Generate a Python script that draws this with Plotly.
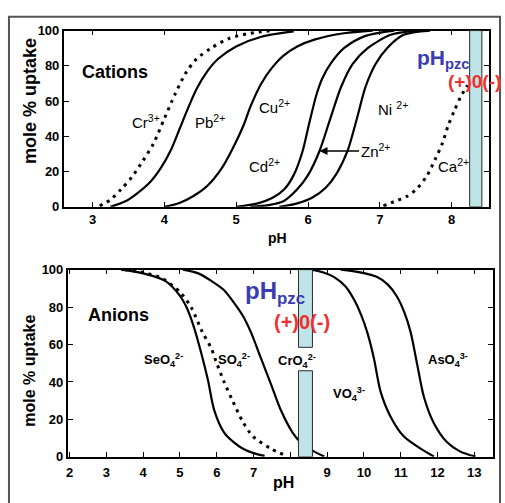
import plotly.graph_objects as go

# ---------------- cation uptake edges (pH, mole % uptake) ----------------
cr_ph = [3.1, 3.25, 3.4, 3.55, 3.7, 3.85, 4.0, 4.15, 4.3, 4.45, 4.65, 4.9, 5.2, 5.5]
cr_up = [0.5, 4, 10, 17, 26, 36, 50, 64, 76, 84, 90, 95.5, 98.5, 100]

pb_ph = [3.25, 3.45, 3.6, 3.8, 3.95, 4.1, 4.22, 4.32, 4.45, 4.6, 4.75, 5.0, 5.35, 5.8]
pb_up = [0, 3, 7, 14, 22, 33, 45, 55, 67, 77, 84, 91, 96.5, 99.5]

cu_ph = [4.0, 4.2, 4.4, 4.6, 4.8, 4.95, 5.1, 5.2, 5.35, 5.5, 5.65, 5.85, 6.1, 6.5, 6.9]
cu_up = [0, 2, 6, 12, 22, 33, 46, 57, 70, 79, 85.5, 91, 95, 98.5, 100]

cd_ph = [5.0, 5.3, 5.5, 5.67, 5.8, 5.92, 6.02, 6.12, 6.2, 6.32, 6.5, 6.8, 7.2]
cd_up = [0, 2, 5, 10, 18, 31, 48, 64, 73, 81.5, 90, 97, 100]

zn_ph = [5.2, 5.45, 5.65, 5.85, 6.0, 6.16, 6.31, 6.46, 6.62, 6.83, 7.15, 7.5]
zn_up = [0, 1, 3, 10, 18, 31.7, 50, 68, 81, 90, 97.6, 100]

ni_ph = [5.6, 5.85, 6.05, 6.25, 6.4, 6.55, 6.68, 6.8, 6.94, 7.1, 7.33, 7.7]
ni_up = [0, 2, 5, 11, 19, 31.7, 50, 68, 81, 90, 97.6, 100]

ca_ph = [7.05, 7.2, 7.38, 7.52, 7.66, 7.77, 7.87, 7.95, 8.03, 8.12, 8.22]
ca_up = [0.5, 3, 6, 10.5, 18, 27, 36, 46, 54, 62, 69]

# ---------------- anion uptake edges (pH, mole % uptake) ----------------
seo4_ph = [3.4, 4.0, 4.6, 5.0, 5.2, 5.4, 5.57, 5.76, 5.93, 6.2, 6.45, 6.7, 7.0, 7.3]
seo4_up = [100, 98, 94, 86, 79, 68, 56, 41, 25, 13, 8, 4.5, 2, 0.5]

so4_ph = [3.5, 4.0, 4.5, 5.0, 5.3, 5.6, 5.85, 5.98, 6.2, 6.43, 6.7, 6.98, 7.47, 7.85]
so4_up = [100, 98.5, 95.5, 88, 80, 67, 58, 51, 40, 30, 19, 11, 4.4, 0.9]

cro4_ph = [5.08, 5.5, 5.85, 6.2, 6.48, 6.72, 6.93, 7.2, 7.47, 7.74, 8.06, 8.28, 8.65, 8.92]
cro4_up = [100, 98, 94, 89, 82, 75, 66.5, 52.7, 39, 25, 13, 7.8, 2.8, 0.2]

vo4_ph = [8.56, 8.9, 9.19, 9.5, 9.73, 9.92, 10.09, 10.27, 10.45, 10.72, 11.08, 11.54, 11.9]
vo4_up = [100, 98.5, 96, 91, 84, 76, 66.5, 52.7, 35, 21.6, 11, 4.4, 0.2]

aso4_ph = [9.37, 9.9, 10.36, 10.65, 10.9, 11.1, 11.27, 11.45, 11.63, 11.9, 12.26, 12.62, 13.03]
aso4_up = [100, 98.5, 96, 92, 85.5, 77, 66.5, 49, 32, 18, 7.8, 2.8, 0.2]

# point-of-zero-charge bands (pH limits) and gap in the lower band (uptake %)
pzc_top = [8.25, 8.42]
pzc_bottom = [8.22, 8.6]
pzc_bottom_gap = [46, 58.5]

cation_ticks = [3, 4, 5, 6, 7, 8]
anion_ticks = [2, 3, 4, 5, 6, 7, 8, 9, 10, 11, 12, 13]
anion_ticktext = ["2", "3", "4", "5", "6", "7", "", "9", "10", "11", "12", "13"]
uptake_ticks = [0, 20, 40, 60, 80, 100]

FONT = "Liberation Sans, Arial, sans-serif"
W, H = 505, 503

fig = go.Figure()


def curve(xs, ys, dotted, panel):
    xa, ya = ("x", "y") if panel == 1 else ("x2", "y2")
    fig.add_trace(go.Scatter(
        x=xs, y=ys, mode="lines", xaxis=xa, yaxis=ya,
        line=dict(color="black", width=3 if dotted else 2.2,
                  dash="3px,5px" if dotted else "solid",
                  shape="spline", smoothing=0.8),
        hoverinfo="skip", showlegend=False))


curve(cr_ph, cr_up, True, 1)
curve(pb_ph, pb_up, False, 1)
curve(cu_ph, cu_up, False, 1)
curve(cd_ph, cd_up, False, 1)
curve(zn_ph, zn_up, False, 1)
curve(ni_ph, ni_up, False, 1)
curve(ca_ph, ca_up, True, 1)

curve(seo4_ph, seo4_up, False, 2)
curve(so4_ph, so4_up, True, 2)
curve(cro4_ph, cro4_up, False, 2)
curve(vo4_ph, vo4_up, False, 2)
curve(aso4_ph, aso4_up, False, 2)

axis_common = dict(
    showline=True, linecolor="black", linewidth=1.6, mirror="ticks",
    ticks="inside", ticklen=5, tickwidth=1.3, tickcolor="black",
    showgrid=False, zeroline=False,
    tickfont=dict(family=FONT, size=13, color="black", weight="bold"),
)

fig.update_layout(
    width=W, height=H,
    margin=dict(l=0, r=0, t=0, b=0),
    paper_bgcolor="white", plot_bgcolor="white",
    xaxis=dict(domain=[62 / W, 489 / W], range=[2.6, 8.52], anchor="y",
               tickvals=cation_ticks, **axis_common),
    yaxis=dict(domain=[1 - 206 / H, 1 - 24.3 / H], range=[0, 100], anchor="x",
               tickvals=uptake_ticks, **axis_common),
    xaxis2=dict(domain=[66 / W, 492.7 / W], range=[1.95, 13.5], anchor="y2",
                tickvals=anion_ticks, ticktext=anion_ticktext, ticklabelstandoff=3,
                **axis_common),
    yaxis2=dict(domain=[1 - 463.7 / H, 1 - 270.7 / H], range=[0, 100], anchor="x2",
                tickvals=uptake_ticks, **axis_common),
)

# pH_pzc bands
band = dict(type="rect", fillcolor="#bfe4e8", line=dict(color="#2a2a2a", width=1), layer="above")
fig.add_shape(xref="x", yref="y", x0=pzc_top[0], x1=pzc_top[1], y0=0, y1=100, **band)
fig.add_shape(xref="x2", yref="y2", x0=pzc_bottom[0], x1=pzc_bottom[1],
              y0=pzc_bottom_gap[1], y1=100, **band)
fig.add_shape(xref="x2", yref="y2", x0=pzc_bottom[0], x1=pzc_bottom[1],
              y0=0, y1=pzc_bottom_gap[0], **band)

# outer frame
fig.add_shape(type="rect", xref="paper", yref="paper",
              x0=7 / W, x1=500 / W, y0=-0.05, y1=1 - 10 / H,
              line=dict(color="#555555", width=2), fillcolor="rgba(0,0,0,0)")


def note(text, x, y, panel, size, bold=False, color="black", **kw):
    xa, ya = ("x", "y") if panel == 1 else ("x2", "y2")
    fig.add_annotation(text=text, x=x, y=y, xref=xa, yref=ya, showarrow=False,
                       xanchor="center", yanchor="middle",
                       font=dict(family=FONT, size=size, color=color,
                                 weight="bold" if bold else "normal"), **kw)


def paper_note(text, px, py, size, angle=0):
    fig.add_annotation(text=text, x=px / W, y=1 - py / H, xref="paper", yref="paper",
                       xanchor="center", yanchor="middle", textangle=angle,
                       showarrow=False,
                       font=dict(family=FONT, size=size, color="black", weight="bold"))


# axis titles
paper_note("mole % uptake", 28, 97, 18, angle=-90)
paper_note("mole % uptake", 28, 375, 16, angle=-90)
paper_note("pH", 277, 238, 14)
paper_note("pH", 283, 490, 16)

# cation labels
note("Cations", 3.32, 76.5, 1, 18, bold=True)
note("Cr<sup>3+</sup>", 3.74, 48.4, 1, 15)
note("Pb<sup>2+</sup>", 4.64, 48.4, 1, 15)
note("Cu<sup>2+</sup>", 5.54, 56.7, 1, 15)
note("Cd<sup>2+</sup>", 5.4, 23.7, 1, 15)
note("Ni <sup>2+</sup>", 7.18, 55.6, 1, 15)
note("Ca<sup>2+</sup>", 8.03, 23.7, 1, 15)
fig.add_annotation(text="Zn<sup>2+</sup>", x=6.16, y=31.7, xref="x", yref="y",
                   ax=6.94, ay=31.7, axref="x", ayref="y",
                   xanchor="center", yanchor="middle",
                   showarrow=True, arrowhead=2, arrowsize=1, arrowwidth=1.6,
                   arrowcolor="black", standoff=0,
                   font=dict(family=FONT, size=15, color="black"))
note("pH<sub>pzc</sub>", 7.88, 84, 1, 21, bold=True, color="#3a3db0")
note("(+)0(-)", 8.32, 71.3, 1, 19, bold=True, color="#f03030")

# anion labels
note("Anions", 3.34, 76, 2, 18, bold=True)
note("SeO<sub>4</sub><sup>2-</sup>", 4.56, 51.7, 2, 13, bold=True)
note("SO<sub>4</sub><sup>2-</sup>", 6.46, 51.7, 2, 13, bold=True)
note("CrO<sub>4</sub><sup>2-</sup>", 8.19, 51, 2, 13, bold=True)
note("VO<sub>4</sub><sup>3-</sup>", 9.6, 33.5, 2, 13, bold=True)
note("AsO<sub>4</sub><sup>3-</sup>", 12.28, 51.7, 2, 13, bold=True)
note("pH<sub>pzc</sub>", 7.58, 88, 2, 24, bold=True, color="#3a3db0")
note("(+)0(-)", 8.31, 72, 2, 20, bold=True, color="#f03030")

fig.write_html("out.html")
